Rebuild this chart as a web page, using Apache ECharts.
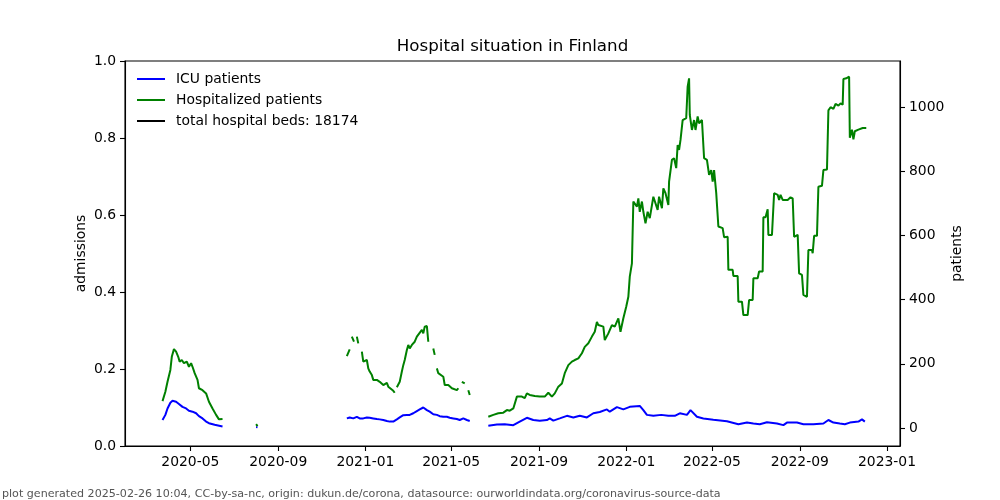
<!DOCTYPE html>
<html>
<head>
<meta charset="utf-8">
<script src="https://cdn.jsdelivr.net/npm/echarts@6/dist/echarts.min.js"></script>
<style>html,body{margin:0;padding:0;background:#fff}#c{width:1000px;height:500px}</style>
</head>
<body>
<div id="c"></div>
<script>
// ---- data ----
const seriesNames = ['ICU patients', 'Hospitalized patients', 'total hospital beds: 18174'];
const xTickLabels = ['2020-05','2020-09','2021-01','2021-05','2021-09','2022-01','2022-05','2022-09','2023-01'];
const leftTicks = [0, 0.2, 0.4, 0.6, 0.8, 1.0];
const rightTicks = [0, 200, 400, 600, 800, 1000];

const icuPatients = [
['2020-03-23',25],['2020-03-27',41],['2020-03-30',61],['2020-04-03',79],['2020-04-06',85],['2020-04-11',82],
['2020-04-15',75],['2020-04-20',66],['2020-04-25',61],['2020-04-29',54],['2020-05-04',51],['2020-05-09',46],
['2020-05-13',37],['2020-05-18',30],['2020-05-23',20],['2020-05-27',15],['2020-06-04',10],['2020-06-15',5],
['2020-07-01',null],
['2020-08-01',3],['2020-08-03',2],
['2020-10-01',null],
['2020-12-06',30],['2020-12-10',33],['2020-12-15',30],['2020-12-20',35],['2020-12-24',30],['2020-12-29',30],
['2021-01-03',33],['2021-01-07',32],['2021-01-12',30],['2021-01-17',28],['2021-01-21',27],['2021-01-26',25],
['2021-01-31',22],['2021-02-04',20],['2021-02-09',20],['2021-02-14',27],['2021-02-18',33],['2021-02-23',40],
['2021-02-28',41],['2021-03-04',41],['2021-03-09',46],['2021-03-14',53],['2021-03-18',58],['2021-03-23',64],
['2021-03-28',56],['2021-04-01',51],['2021-04-06',43],['2021-04-11',41],['2021-04-15',37],['2021-04-20',35],
['2021-04-25',35],['2021-04-29',32],['2021-05-04',30],['2021-05-09',28],['2021-05-13',25],['2021-05-18',30],
['2021-05-23',25],['2021-05-27',22],
['2021-06-10',null],
['2021-06-22',7],['2021-07-04',11],['2021-07-15',12],['2021-07-27',9],['2021-08-05',20],['2021-08-15',32],
['2021-08-24',25],['2021-09-02',23],['2021-09-12',25],['2021-09-16',30],['2021-09-21',23],['2021-09-30',30],
['2021-10-10',38],['2021-10-19',33],['2021-10-28',38],['2021-11-07',33],['2021-11-16',46],['2021-11-25',50],
['2021-12-05',58],['2021-12-09',51],['2021-12-19',65],['2021-12-28',58],['2022-01-06',66],['2022-01-20',69],
['2022-01-25',56],['2022-01-30',41],['2022-02-08',38],['2022-02-19',41],['2022-03-01',38],['2022-03-10',38],
['2022-03-17',46],['2022-03-27',41],['2022-04-01',56],['2022-04-10',35],['2022-04-19',30],['2022-05-03',26],
['2022-05-22',21],['2022-06-07',12],['2022-06-19',17],['2022-06-28',14],['2022-07-07',12],['2022-07-17',18],
['2022-07-31',14],['2022-08-09',9],['2022-08-14',17],['2022-08-28',17],['2022-09-06',12],['2022-09-20',12],
['2022-10-04',14],['2022-10-11',25],['2022-10-18',17],['2022-10-27',14],['2022-11-03',12],['2022-11-10',17],
['2022-11-22',20],['2022-11-27',27],['2022-12-01',20]
];

const hospitalizedPatients = [
['2020-03-23',84],['2020-03-27',113],['2020-03-30',144],['2020-04-03',181],['2020-04-05',222],['2020-04-08',246],
['2020-04-11',238],['2020-04-14',222],['2020-04-16',207],['2020-04-19',212],['2020-04-22',202],['2020-04-26',207],
['2020-04-29',191],['2020-05-02',202],['2020-05-04',191],['2020-05-07',171],['2020-05-11',150],['2020-05-13',124],
['2020-05-18',118],['2020-05-23',108],['2020-05-27',82],['2020-06-01',61],['2020-06-06',41],['2020-06-10',27],
['2020-06-15',28],
['2020-07-01',null],
['2020-08-01',12],['2020-08-03',6],
['2020-10-01',null],
['2020-12-06',224],['2020-12-10',245],['2020-12-12',null],['2020-12-13',285],['2020-12-15',287],['2020-12-16',269],
['2020-12-18',null],['2020-12-20',285],['2020-12-22',264],['2020-12-24',null],['2020-12-27',238],['2020-12-29',207],
['2021-01-03',212],['2021-01-05',186],['2021-01-07',176],['2021-01-10',165],['2021-01-12',150],['2021-01-17',150],
['2021-01-21',144],['2021-01-26',134],['2021-01-31',141],['2021-02-02',129],['2021-02-04',134],['2021-02-09',116],
['2021-02-11',110],['2021-02-13',null],['2021-02-14',127],['2021-02-18',144],['2021-02-21',176],['2021-02-23',196],
['2021-02-25',212],['2021-02-28',243],['2021-03-02',259],['2021-03-04',248],['2021-03-07',259],['2021-03-11',269],
['2021-03-14',285],['2021-03-16',280],['2021-03-21',306],['2021-03-23',295],['2021-03-25',316],['2021-03-28',318],
['2021-03-30',269],['2021-04-02',null],['2021-04-06',248],['2021-04-08',228],['2021-04-10',null],['2021-04-11',186],
['2021-04-13',171],['2021-04-15',165],['2021-04-20',160],['2021-04-22',134],['2021-04-27',134],['2021-05-02',124],
['2021-05-04',129],['2021-05-09',118],['2021-05-11',124],['2021-05-14',null],['2021-05-16',144],['2021-05-18',150],
['2021-05-20',139],['2021-05-23',null],['2021-05-25',118],['2021-05-27',103],
['2021-06-10',null],
['2021-06-22',35],['2021-06-29',41],['2021-07-06',46],['2021-07-13',48],['2021-07-18',56],['2021-07-22',54],
['2021-07-27',61],['2021-08-01',98],['2021-08-03',103],['2021-08-08',98],['2021-08-12',93],['2021-08-15',108],
['2021-08-19',103],['2021-08-26',100],['2021-09-02',98],['2021-09-09',98],['2021-09-14',110],['2021-09-19',98],
['2021-09-23',108],['2021-09-28',129],['2021-10-03',139],['2021-10-07',171],['2021-10-12',196],['2021-10-17',207],
['2021-10-21',212],['2021-10-26',217],['2021-10-31',233],['2021-11-04',253],['2021-11-09',264],['2021-11-14',285],
['2021-11-18',300],['2021-11-21',331],['2021-11-23',321],['2021-11-25',326],['2021-11-30',316],['2021-12-02',274],
['2021-12-07',295],['2021-12-12',321],['2021-12-16',316],['2021-12-21',342],['2021-12-24',300],['2021-12-28',342],
['2022-01-01',378],['2022-01-04',409],['2022-01-06',472],['2022-01-09',513],['2022-01-11',706],['2022-01-13',711],
['2022-01-16',690],['2022-01-18',716],['2022-01-20',674],['2022-01-23',706],['2022-01-25',674],['2022-01-28',638],
['2022-01-31',674],['2022-02-03',654],['2022-02-08',721],['2022-02-10',727],['2022-02-14',680],['2022-02-16',721],
['2022-02-20',685],['2022-02-22',747],['2022-02-25',732],['2022-03-01',695],['2022-03-02',768],['2022-03-06',836],
['2022-03-09',841],['2022-03-12',810],['2022-03-14',882],['2022-03-16',867],['2022-03-18',898],['2022-03-21',960],
['2022-03-26',966],['2022-03-28',1064],['2022-03-30',1090],['2022-03-31',976],['2022-04-03',929],['2022-04-06',960],
['2022-04-08',929],['2022-04-11',971],['2022-04-13',950],['2022-04-17',960],['2022-04-20',841],['2022-04-24',836],
['2022-04-27',789],['2022-04-30',804],['2022-05-02',768],['2022-05-04',804],['2022-05-07',732],['2022-05-10',628],
['2022-05-16',623],['2022-05-18',595],['2022-05-23',596],['2022-05-24',493],['2022-05-30',493],['2022-05-31',474],
['2022-06-06',474],['2022-06-07',394],['2022-06-12',394],['2022-06-14',352],['2022-06-20',352],['2022-06-22',399],
['2022-06-27',399],['2022-06-28',467],['2022-07-04',467],['2022-07-06',488],['2022-07-11',488],['2022-07-12',657],
['2022-07-15',657],['2022-07-18',682],['2022-07-19',602],['2022-07-24',602],['2022-07-27',732],['2022-08-01',727],
['2022-08-03',711],['2022-08-05',727],['2022-08-08',711],['2022-08-15',711],['2022-08-19',719],['2022-08-22',716],
['2022-08-24',596],['2022-08-29',602],['2022-08-31',482],['2022-09-04',477],['2022-09-06',415],['2022-09-11',409],
['2022-09-13',555],['2022-09-18',555],['2022-09-19',545],['2022-09-21',599],['2022-09-25',599],['2022-09-27',752],
['2022-10-02',755],['2022-10-04',804],['2022-10-09',806],['2022-10-11',990],['2022-10-14',1000],['2022-10-18',995],
['2022-10-21',1010],['2022-10-25',1005],['2022-10-28',1012],['2022-10-31',1008],['2022-11-01',1088],['2022-11-05',1090],
['2022-11-09',1095],['2022-11-10',905],['2022-11-13',930],['2022-11-15',900],['2022-11-17',925],['2022-11-22',930],
['2022-11-28',935],['2022-12-03',935]
];

// ---- helpers ----
function ts(s){ return Date.parse(s + 'T00:00:00Z'); }
function toSeries(arr){ return arr.map(p => [ts(p[0]), p[1] === null ? '-' : p[1]]); }
const xTickValues = xTickLabels.map(s => ts(s + '-01'));
const FONT = 'DejaVu Sans';

const chart = echarts.init(document.getElementById('c'), null, {renderer: 'canvas'});
const option = {
  animation: false,
  backgroundColor: '#fff',
  grid: {left: 125, right: 100, top: 61, bottom: 54, show: true, borderColor: '#000', borderWidth: 1.1,
         backgroundColor: 'transparent', containLabel: false},
  legend: {
    data: seriesNames, orient: 'vertical', left: 132, top: 66, icon: 'rect', itemWidth: 28, itemHeight: 2, itemGap: 5,
    textStyle: {fontFamily: FONT, fontSize: 13.9, lineHeight: 16, color: '#000', padding: [0, 0, 0, 6]},
    selectedMode: false
  },
  xAxis: {
    type: 'value',
    min: ts('2020-01-31') - 12 * 3600e3,
    max: ts('2023-01-19') + 5 * 3600e3,
    axisLine: {show: true, onZero: false, lineStyle: {color: '#000', width: 1.1}},
    axisTick: {show: true, inside: false, length: 5, lineStyle: {color: '#000', width: 1.1}, customValues: xTickValues},
    axisLabel: {show: true, margin: 9, color: '#000', fontFamily: FONT, fontSize: 13.9, customValues: xTickValues,
      showMinLabel: true, showMaxLabel: true,
      formatter: function (v) { const d = new Date(v); return d.getUTCFullYear() + '-' + String(d.getUTCMonth() + 1).padStart(2, '0'); }},
    splitLine: {show: false}
  },
  yAxis: [
    {
      type: 'value', position: 'left', min: 0, max: 1, interval: 0.2,
      name: 'admissions', nameLocation: 'middle', nameGap: 37, nameRotate: 90, nameMoveOverlap: false,
      nameTextStyle: {fontFamily: FONT, fontSize: 13.9, color: '#000'},
      axisLine: {show: true, onZero: false, lineStyle: {color: '#000', width: 1.1}},
      axisTick: {show: true, inside: false, length: 5, lineStyle: {color: '#000', width: 1.1}},
      axisLabel: {color: '#000', fontFamily: FONT, fontSize: 13.9, margin: 9, formatter: v => v.toFixed(1)},
      splitLine: {show: false}
    },
    {
      type: 'value', position: 'right', min: -56, max: 1144,
      name: 'patients', nameLocation: 'middle', nameGap: 50, nameRotate: 90, nameMoveOverlap: false,
      nameTextStyle: {fontFamily: FONT, fontSize: 13.9, color: '#000'},
      axisLine: {show: true, onZero: false, lineStyle: {color: '#000', width: 1.1}},
      axisTick: {show: true, inside: false, length: 5, lineStyle: {color: '#000', width: 1.1}, customValues: rightTicks},
      axisLabel: {color: '#000', fontFamily: FONT, fontSize: 13.9, margin: 9, customValues: rightTicks,
        formatter: v => String(Math.round(v))},
      splitLine: {show: false}
    }
  ],
  series: [
    {name: seriesNames[0], type: 'line', yAxisIndex: 1, symbol: 'none', connectNulls: false,
     lineStyle: {color: '#0000ff', width: 2}, itemStyle: {color: '#0000ff'}, data: toSeries(icuPatients)},
    {name: seriesNames[1], type: 'line', yAxisIndex: 1, symbol: 'none', connectNulls: false,
     lineStyle: {color: '#008000', width: 2}, itemStyle: {color: '#008000'}, data: toSeries(hospitalizedPatients)},
    {name: seriesNames[2], type: 'line', yAxisIndex: 1, symbol: 'none',
     lineStyle: {color: '#000000', width: 2}, itemStyle: {color: '#000000'}, data: []}
  ],
  graphic: [
    {type: 'text', x: 512.5, y: 47, style: {text: 'Hospital situation in Finland', fontFamily: FONT, fontSize: 16.7,
      fill: '#000', align: 'center', verticalAlign: 'middle'}},
    {type: 'text', x: 2, y: 494, style: {text: 'plot generated 2025-02-26 10:04, CC-by-sa-nc, origin: dukun.de/corona, datasource: ourworldindata.org/coronavirus-source-data',
      fontFamily: FONT, fontSize: 11.1, fill: '#555', align: 'left', verticalAlign: 'middle'}}
  ]
};
chart.setOption(option);
</script>
</body>
</html>
